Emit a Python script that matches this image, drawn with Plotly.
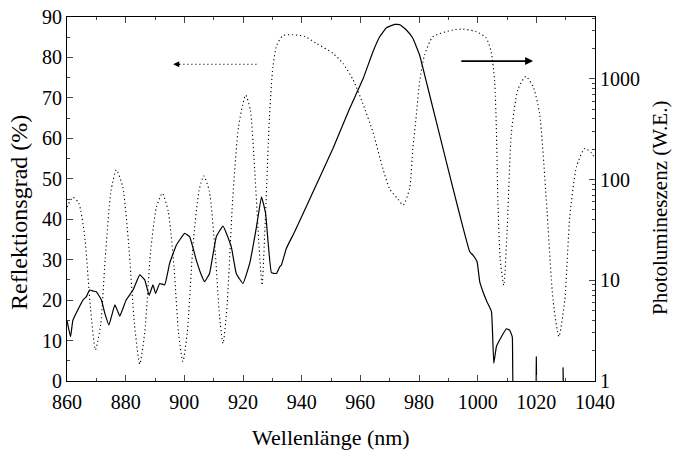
import plotly.graph_objects as go

# Reflectance (dotted, left axis, %)
refl_wl = [860, 862, 864, 866, 868, 869.7, 871.5, 873, 875, 876.8, 879, 881, 883, 884.8, 886.5,
           888.5, 890.5, 892.5, 894.5, 896.5, 898, 899.5, 901, 903, 905, 906.6, 908.5, 910.5,
           912, 913.2, 914.5, 916.5, 918.5, 920.9, 922.5, 924, 925.5, 926.5, 927.5, 929, 930.2,
           931.5, 933.6, 937, 941, 945, 950.7, 954.1, 957.5, 960.9, 964.3, 967.7, 970, 972.8,
           974.6, 976.8, 977.9, 979.1, 980.2, 981.9, 984.7, 991.6, 995, 999.5, 1002.9, 1004.6,
           1005.8, 1006.4, 1006.9, 1007.7, 1008.9, 1010, 1011.5, 1013.7, 1016.4, 1018.9, 1021.1,
           1023.4, 1025.7, 1027.7, 1029.7, 1031.4, 1033.7, 1036.5, 1038.8, 1040]
refl_val = [43, 45.4, 44, 36, 18, 7.7, 14, 30, 47, 52.2, 48, 34, 14, 4.2, 12,
            32, 43, 46.4, 42, 28, 12, 4.8, 12, 34, 47, 50.7, 47, 32,
            16, 9.3, 18, 45, 63, 70.7, 67, 52, 33, 23.7, 38, 65, 77.7,
            83, 85.4, 85.6, 85.2, 83.5, 81, 78.5, 74.5, 68.5, 61.5, 52.5, 47.5, 45,
            43.5, 47.6, 57.5, 65.8, 74, 80.6, 85.1, 86.8, 87, 86.4, 84.8, 81.4,
            74, 61.6, 44.3, 30, 23.7, 36.6, 61.3, 72, 75.3, 72.8, 66.2,
            44.8, 20, 11, 20, 40.6, 53, 57.5, 56.4, 55]

# Photoluminescence (solid, right log axis, arb. units)
pl_wl = [860, 861.2, 862, 863.7, 865.5, 866.6, 867.7, 869, 870, 871.7, 872.9, 874.3, 876.3, 877.2,
         878, 880.2, 882.5, 884.8, 886.5, 888, 889.3, 890.2, 891.6, 893.3, 895, 897.3, 900.1,
         901.8, 904.1, 905.8, 906.9, 908.6, 910.9, 913.2, 916, 917.7, 920, 922.3, 924.6, 926.3,
         927.7, 929.7, 931.4, 932.5, 933.1, 934.8, 937.6, 943.9, 950.7, 956.4, 961, 964.3,
         966.6, 968.9, 971.7, 973.5, 975.7, 977.9, 980.2, 982.5, 985.9, 989.3, 993.9, 997.3,
         998.4, 999.8, 1000.7, 1001.8, 1003.2, 1004.7, 1005.5, 1006.4, 1008.1, 1009.8, 1010.9,
         1011.8, 1012.6, 1019.6, 1020, 1020.4, 1028.8, 1029.1, 1029.4]
pl_val = [4.0, 2.75, 4.0, 5.1, 6.4, 6.9, 8.0, 7.8, 7.7, 6.4, 4.7, 3.6, 5.7, 5.0,
          4.4, 6.4, 8.0, 11.3, 10.1, 7.1, 9.0, 7.4, 9.3, 9.0, 14.8, 22.4, 29.3,
          27.1, 15.8, 11.3, 9.7, 11.7, 27.1, 34.6, 21.6, 11.7, 9.3, 14.8, 34, 67.6,
          46.2, 11.9, 11.7, 13.6, 14.2, 20.8, 30.4, 75.8, 205, 511, 1014, 1862,
          2624, 3222, 3483, 3450, 3062, 2531, 1727, 938, 376, 151, 44.5, 19.2,
          17.8, 15.3, 9.7, 7.7, 6.1, 4.9, 1.5, 2.2, 2.75, 3.3, 3.2,
          2.75, 0.5, 0.5, 1.74, 0.5, 0.5, 1.35, 0.5]

x_ticks = [860, 880, 900, 920, 940, 960, 980, 1000, 1020, 1040]
y_ticks = [0, 10, 20, 30, 40, 50, 60, 70, 80, 90]
y2_ticks = [1, 10, 100, 1000]

FONT = "Liberation Serif"
L, R, T, B = 67, 78, 17, 70
W, H = 673, 451
PW, PH = W - L - R, H - T - B


def fnt(size):
    return dict(family=FONT, size=size, color="black")


fig = go.Figure()
fig.add_trace(go.Scatter(x=refl_wl, y=refl_val, mode="lines",
                         line=dict(color="black", width=1.1, dash="1.2px,2.8px", shape="spline", smoothing=0.6),
                         showlegend=False))
fig.add_trace(go.Scatter(x=pl_wl, y=pl_val, mode="lines", yaxis="y2",
                         line=dict(color="black", width=1.2, shape="spline", smoothing=0.3),
                         showlegend=False))

# arrows
fig.add_shape(type="line", x0=924.6, x1=898, y0=78.3, y1=78.3, xref="x", yref="y",
              line=dict(color="black", width=1.1, dash="1.2px,2.8px"))
fig.add_annotation(x=896.2, y=78.3, ax=899, ay=78.3, xref="x", yref="y", axref="x", ayref="y",
                   text="", showarrow=True, arrowhead=2, arrowsize=1, arrowwidth=1.2, arrowcolor="black")
fig.add_annotation(x=1018.9, y=79.1, ax=993.9, ay=79.1, xref="x", yref="y", axref="x", ayref="y",
                   text="", showarrow=True, arrowhead=2, arrowsize=1, arrowwidth=1.6, arrowcolor="black")


def px(xp):
    return (xp - L) / PW


def py(yp):
    return (H - B - yp) / PH


fig.add_annotation(text="Wellenlänge (nm)", x=px(331), y=py(438), xref="paper", yref="paper",
                   showarrow=False, font=fnt(22), xanchor="center", yanchor="middle")
fig.add_annotation(text="Reflektionsgrad (%)", x=px(19), y=py(213), xref="paper", yref="paper",
                   showarrow=False, font=fnt(24), textangle=-90, xanchor="center", yanchor="middle")
fig.add_annotation(text="Photolumineszenz (W.E.)", x=px(660), y=py(208), xref="paper", yref="paper",
                   showarrow=False, font=fnt(21), textangle=-90, xanchor="center", yanchor="middle")

fig.update_layout(
    template="none",
    width=W, height=H,
    margin=dict(l=L, r=R, t=T, b=B),
    paper_bgcolor="white", plot_bgcolor="white",
    font=fnt(20),
    showlegend=False,
    xaxis=dict(range=[860, 1040], tickvals=x_ticks, ticks="inside", ticklen=6, tickwidth=1,
               showline=True, linecolor="black", linewidth=1.2, mirror="ticks", showgrid=False,
               zeroline=False, tickfont=fnt(20), ticklabelstandoff=3,
               minor=dict(dtick=10, tick0=860, ticks="inside", ticklen=3, tickwidth=1, showgrid=False)),
    yaxis=dict(range=[0, 90], tickvals=y_ticks, ticks="inside", ticklen=6, tickwidth=1,
               showline=True, linecolor="black", linewidth=1.2, showgrid=False, zeroline=False,
               tickfont=fnt(20),
               minor=dict(dtick=5, tick0=0, ticks="inside", ticklen=3, tickwidth=1, showgrid=False)),
    yaxis2=dict(type="log", range=[0, 3.615], overlaying="y", side="right",
                tickvals=y2_ticks, ticktext=["1", "10", "100", "1000"],
                ticks="inside", ticklen=6, tickwidth=1, tickfont=fnt(20),
                showline=True, linecolor="black", linewidth=1.2, showgrid=False, zeroline=False,
                minor=dict(ticks="inside", ticklen=3, tickwidth=1, dtick="D1", showgrid=False)),
)

fig.write_html("out.html")
